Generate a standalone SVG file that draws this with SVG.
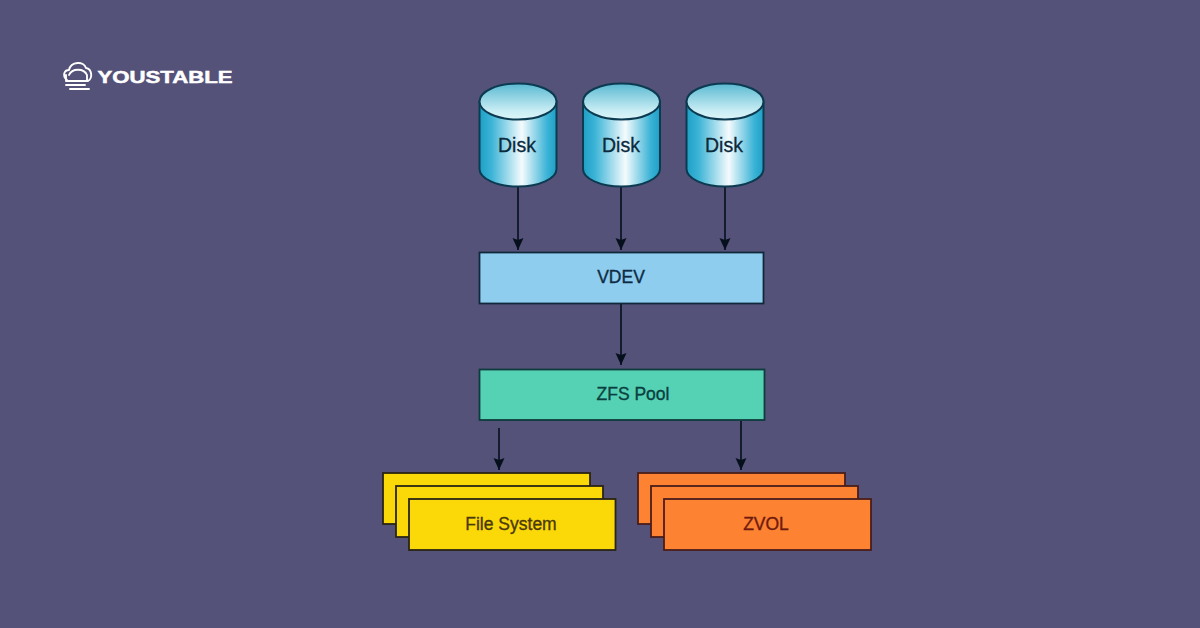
<svg xmlns="http://www.w3.org/2000/svg" width="1200" height="628" viewBox="0 0 1200 628">
<style>
text{font-family:"Liberation Sans",Arial,sans-serif;text-anchor:middle}
.lbl{font-size:17.500px;stroke-width:0.350px}
.disk{fill:#0b2a3c;stroke:#0b2a3c;stroke-width:0.300px;font-size:19.500px}
.edge{stroke:#05101c;stroke-width:1.6;fill:none;marker-end:url(#arrow)}
.dk{stroke:#0c3a50;stroke-width:2}
.y{fill:#fbd909;stroke:#2a2413;stroke-width:1.8}
.o{fill:#fd8232;stroke:#4a1d1a;stroke-width:1.8}
.logo{fill:none;stroke:#fff;stroke-width:1.9;stroke-linecap:round;stroke-linejoin:round}
</style>
<defs>
<linearGradient id="body" x1="0" x2="1" y1="0" y2="0">
<stop offset="0" stop-color="#1f9fc6"/><stop offset="0.15" stop-color="#3ab3d6"/><stop offset="0.55" stop-color="#f4fbfd"/><stop offset="0.88" stop-color="#3ab3d6"/><stop offset="1" stop-color="#1f9fc6"/>
</linearGradient>
<linearGradient id="top" x1="0" x2="0" y1="0" y2="1">
<stop offset="0" stop-color="#5ab9d2"/><stop offset="0.75" stop-color="#c8edf4"/><stop offset="1" stop-color="#def5f9"/>
</linearGradient>
<marker id="arrow" markerUnits="userSpaceOnUse" markerWidth="13" markerHeight="12" refX="12" refY="5.500" orient="auto">
<path d="M0 0L12 5.500L0 11L2 5.500Z" fill="#05101c"/>
</marker>
<g id="cyl">
<path class="dk" d="M-38.500 -33.500V34A38.500 17.500 0 0 0 38.500 34V-33.500Z" fill="url(#body)"/>
<ellipse class="dk" cx="0" cy="-33.500" rx="38.500" ry="18" fill="url(#top)"/>
</g>
</defs>
<rect width="1200" height="628" fill="#555279"/>
<g id="logo">
<path class="logo" d="M67 80C62 76 64 70 69 70C71 61 84 61 86 68C92 69 93 78 88 81M69 75C72 68 84 68 87 75V81H66V75M66 85H85M70 89H89"/>
<text x="165" y="83" font-size="16.500" font-weight="700" fill="#fff" stroke="#fff" stroke-width="0.500" textLength="135" lengthAdjust="spacingAndGlyphs">YOUSTABLE</text>
</g>
<g id="connectors">
<path class="edge" d="M518 187V250"/>
<path class="edge" d="M621 187V250"/>
<path class="edge" d="M725 187V250"/>
<path class="edge" d="M621 304V365"/>
<path class="edge" d="M499 428V470"/>
<path class="edge" d="M741 421V470"/>
</g>
<g id="disk1"><use href="#cyl" x="518" y="135"/><text class="disk" x="517" y="152">Disk</text></g>
<g id="disk2"><use href="#cyl" x="621.500" y="135"/><text class="disk" x="621" y="152">Disk</text></g>
<g id="disk3"><use href="#cyl" x="725" y="135"/><text class="disk" x="724" y="152">Disk</text></g>
<g id="vdev"><rect x="479.500" y="252.500" width="284" height="51" fill="#8ecdee" stroke="#10283a" stroke-width="1.800"/><text class="lbl" x="621" y="283" fill="#0d2b45" stroke="#0d2b45">VDEV</text></g>
<g id="pool"><rect x="479.500" y="369.500" width="285" height="50.500" fill="#55d1b4" stroke="#0e3b3c" stroke-width="1.800"/><text class="lbl" x="633" y="400" fill="#0b3f3f" stroke="#0b3f3f">ZFS Pool</text></g>
<g id="fs">
<rect class="y" x="383" y="473" width="207" height="51"/>
<rect class="y" x="396" y="486" width="207" height="51"/>
<rect class="y" x="409" y="499" width="206.500" height="51"/>
<text class="lbl" x="511" y="530" fill="#4b3a0a" stroke="#4b3a0a">File System</text>
</g>
<g id="zvol">
<rect class="o" x="638" y="473" width="207" height="51"/>
<rect class="o" x="651" y="486" width="207" height="51"/>
<rect class="o" x="664" y="499" width="207" height="51"/>
<text class="lbl" x="766" y="530" fill="#6e1a0e" stroke="#6e1a0e">ZVOL</text>
</g>
</svg>
